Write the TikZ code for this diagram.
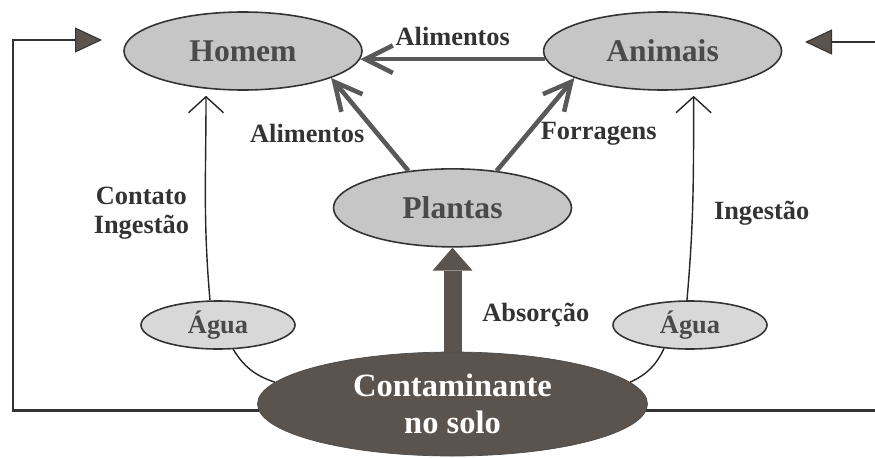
\documentclass[tikz,border=0pt]{standalone}
\usepackage{fontspec}
\setmainfont{Liberation Serif}
\usetikzlibrary{arrows.meta,positioning,shapes.geometric}
\definecolor{nodegray}{HTML}{C6C6C6}
\definecolor{watergray}{HTML}{D8D8D8}
\definecolor{soilbrown}{HTML}{5B534D}
\definecolor{arrowgray}{HTML}{595959}
\definecolor{textgray}{HTML}{4A4A4A}

\begin{document}
\begin{tikzpicture}[>={Straight Barb[length=5.5mm,width=5.5mm]},
                    main node/.style={ellipse,draw=black!80,line width=0.9pt,fill=nodegray,inner sep=0pt,
                      minimum width=4.76cm,minimum height=1.56cm,text=textgray,font=\fontsize{18}{20}\selectfont\bfseries},
                    water node/.style={main node,fill=watergray,minimum width=3.08cm,minimum height=0.96cm,
                      font=\fontsize{15}{18}\selectfont\bfseries},
                    soil node/.style={ellipse,draw=black!70,fill=soilbrown,inner sep=0pt,minimum width=7.8cm,
                      minimum height=2.08cm,text=white,align=center,font=\fontsize{18.5}{21}\selectfont\bfseries},
                    thick arrow/.style={->,line width=2.6pt,draw=arrowgray},
                    thin arrow/.style={-{Straight Barb[length=3.2mm,width=7mm]},line width=0.8pt,draw=black!85},
                    block arrow/.style={-{Triangle[length=4.6mm,width=8mm,line width=0pt]},line width=3.6mm,draw=soilbrown},
                    back arrow/.style={-{Triangle[length=5.4mm,width=5mm,line width=0.6pt,fill=soilbrown]},
                      line width=1.6pt,draw=black!80}]
  \useasboundingbox (0,0) rectangle (17.5,9.14);
  \node[soil node] (6) at (9.05,1.06) {Contaminante\\no solo};
  \node[main node] (3) [above=2.08cm of 6] {Plantas};
  \node[main node] (1) at (4.86,8.12) {Homem};
  \node[main node] (2) [right=3.6cm of 1] {Animais};
  \node[water node] (4) at (4.36,2.64) {Água};
  \node[water node] (5) at (13.80,2.64) {Água};
  \coordinate (lc) at (0.26,8.34);
  \coordinate (l) at (2.04,8.34);
  \coordinate (rc) at (17.7,8.30);
  \coordinate (r) at (16.10,8.30);
  \path[every node/.style={font=\fontsize{15}{17}\selectfont\bfseries,text=black!80}]
    (2.184) edge [thick arrow] node [above=1mm] {Alimentos} (1.-4)
    (3.140) edge [thick arrow] node [left=1mm,pos=0.4] {Alimentos} (1.-17)
    (3.40) edge [thick arrow] node [right=1mm,pos=0.4] {Forragens} (2.197)
    (6.north) edge [block arrow] node [right=3mm,pos=0.35] {Absorção} (3.south)
    (4.108) edge [thin arrow,out=95,in=-90] node [left=2mm,align=center,pos=0.42] {Contato\\Ingestão}
      ([xshift=-0.74cm,yshift=-0.1cm]1.south)
    (5.97) edge [thin arrow,out=85,in=-90] node [right=3mm,pos=0.42] {Ingestão}
      ([xshift=0.62cm,yshift=-0.1cm]2.south)
    (4.-58) edge [line width=0.8pt,draw=black!85,bend right=20] (6.173)
    (5.222) edge [line width=0.8pt,draw=black!85,bend left=20] (6.7);
  \draw[back arrow] (6.182) -| (lc) -- (l);
  \draw[back arrow] (6.358) -| (rc) -- (r);
\end{tikzpicture}
\end{document}
